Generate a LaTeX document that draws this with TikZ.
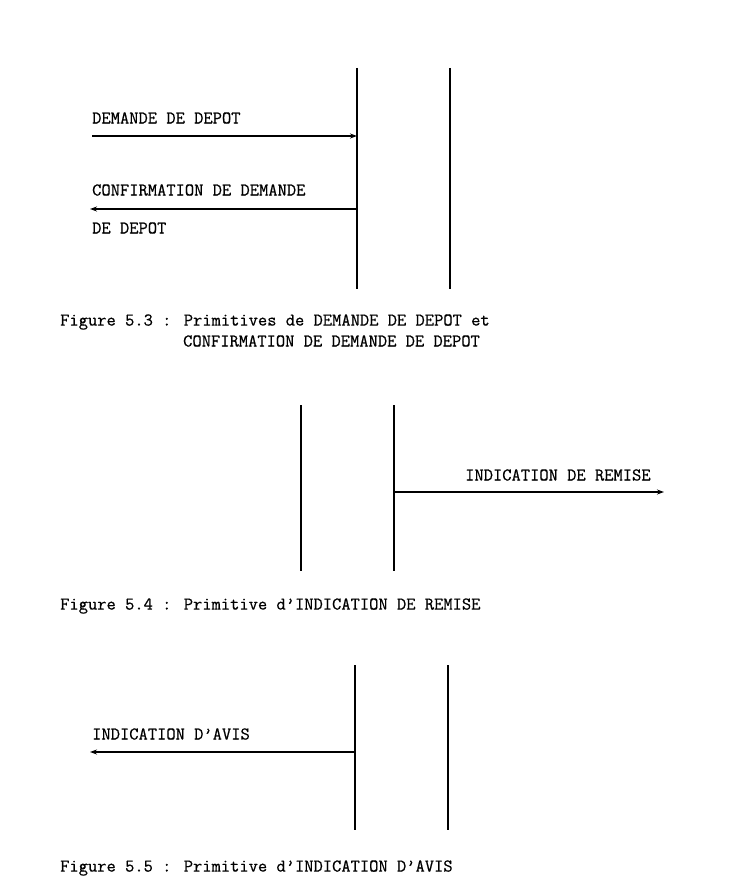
\documentclass[tikz,border=0pt]{standalone}
\usepackage{fontspec}
\newfontfamily\courfont[FakeBold=0.6]{Latin Modern Mono}
\usetikzlibrary{arrows.meta}
\tikzset{
  life/.style={line width=1.2pt},
  msg/.style={line width=1.2pt,-{Stealth[length=7pt,width=5pt]}},
  lbl/.style={anchor=west,inner sep=0pt,font=\courfont\fontsize{18}{20}\selectfont},
  captxt/.style={anchor=west,inner sep=0pt,font=\courfont\fontsize{18}{20}\selectfont}
}
\begin{document}
\begin{tikzpicture}[x=1pt,y=-1pt]
\useasboundingbox[fill=white] (0,0) rectangle (734,880);
% Figure 5.3
\coordinate (a1t) at (357,68); \coordinate (a1b) at (357,289);
\coordinate (b1t) at (450,68); \coordinate (b1b) at (450,289);
\draw[life] (a1t) -- (a1b);
\draw[life] (b1t) -- (b1b);
\coordinate (m1s) at (92,136); \coordinate (m1e) at (357,136);
\draw[msg] (m1s) -- (m1e);
\node[lbl] (l1) at (92,118) {DEMANDE DE DEPOT};
\coordinate (m2s) at (357,209); \coordinate (m2e) at (90,209);
\draw[msg] (m2s) -- (m2e);
\node[lbl] (l2) at (92,190) {CONFIRMATION DE DEMANDE};
\node[lbl] (l3) at (92,228) {DE DEPOT};
\node[captxt] (c1) at (60,322) {Figure 5.3 : Primitives de DEMANDE DE DEPOT et};
\node[captxt] (c1b) at (183,341) {CONFIRMATION DE DEMANDE DE DEPOT};
% Figure 5.4
\coordinate (a2t) at (301,405); \coordinate (a2b) at (301,571);
\coordinate (b2t) at (394,405); \coordinate (b2b) at (394,571);
\draw[life] (a2t) -- (a2b);
\draw[life] (b2t) -- (b2b);
\coordinate (m3s) at (394,492); \coordinate (m3e) at (664,492);
\draw[msg] (m3s) -- (m3e);
\node[lbl] (l4) at (465,475) {INDICATION DE REMISE};
\node[captxt] (c2) at (60,606) {Figure 5.4 : Primitive d’INDICATION DE REMISE};
% Figure 5.5
\coordinate (a3t) at (355,665); \coordinate (a3b) at (355,830);
\coordinate (b3t) at (448,665); \coordinate (b3b) at (448,830);
\draw[life] (a3t) -- (a3b);
\draw[life] (b3t) -- (b3b);
\coordinate (m4s) at (355,752); \coordinate (m4e) at (90,752);
\draw[msg] (m4s) -- (m4e);
\node[lbl] (l5) at (92,734) {INDICATION D’AVIS};
\node[captxt] (c3) at (60,868) {Figure 5.5 : Primitive d’INDICATION D’AVIS};
\end{tikzpicture}
\end{document}
